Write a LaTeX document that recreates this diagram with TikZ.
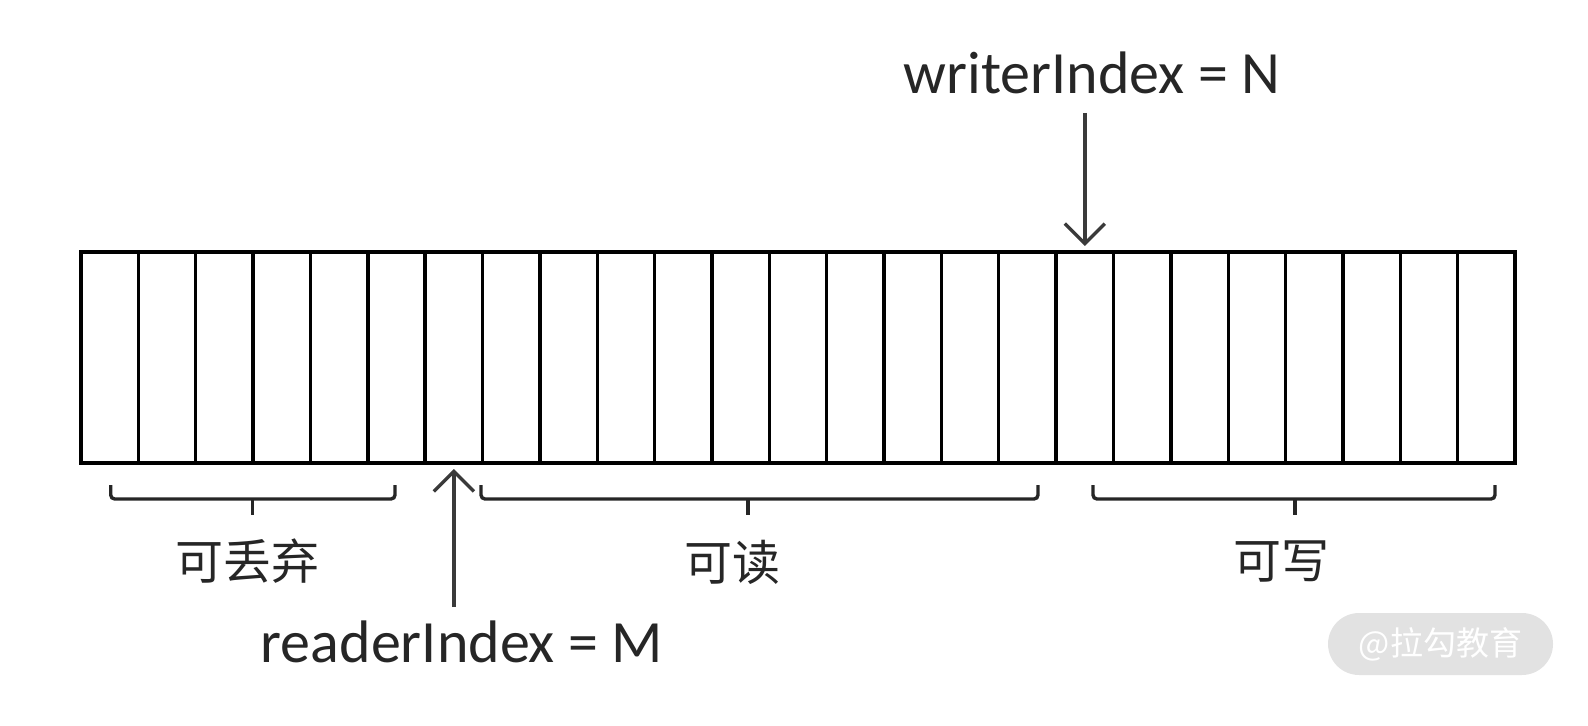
\documentclass[tikz,border=0pt]{standalone}
\usepackage{fontspec}
\setmainfont{Carlito}
\newfontfamily\cjk{Noto Sans CJK SC}
\usetikzlibrary{arrows.meta}
\definecolor{txt}{HTML}{262626}
\definecolor{arrc}{HTML}{3A3A3A}
\definecolor{wmfill}{HTML}{E2E2E2}
\begin{document}
\begin{tikzpicture}[x=0.5pt,y=-0.5pt,
  cell/.style={draw=black,line width=1.7pt,minimum width=28.68pt,minimum height=105.5pt,inner sep=0pt,outer sep=0pt,anchor=north west},
  lab/.style={font=\fontsize{30}{32}\selectfont,text=txt,inner sep=0pt,anchor=base},
  cjklab/.style={font=\cjk\fontsize{24}{28}\selectfont,text=txt,inner sep=0pt},
  arr/.style={draw=arrc,line width=1.7pt,-{Straight Barb[length=10pt,width=20pt]},shorten >=3pt},
  bracepath/.style={draw=txt,line width=1.7pt,rounded corners=2pt},
  wmark/.style={fill=wmfill,rounded corners=15.5pt,minimum width=112.5pt,minimum height=31pt,text=white,inner sep=0pt,font=\cjk\fontsize{16.5}{18}\selectfont}]
\useasboundingbox (0,0) rectangle (1588,726);
% buffer cells
\foreach \i in {0,...,24} \node[cell] (c\i) at ({81+\i*57.36},252) {};
% labels
\node[lab] (wlabel) at (1092,93.5) {writerIndex = N};
\node[lab] (rlabel) at (462,662.3) {readerIndex = M};
% arrows
\coordinate (wy) at (0,113);
\coordinate (ry) at (0,607);
\coordinate (wstart) at (c17.north |- wy);
\coordinate (rstart) at (c6.south |- ry);
\draw[arr] (wstart) -- (c17.north);
\draw[arr] (rstart) -- (c6.south);
% braces
\draw[bracepath] (110.7,485) -- (110.7,499) -- (395,499) -- (395,485);
\draw[bracepath] (252.3,499) -- (252.3,515);
\draw[bracepath] (481,485) -- (481,499) -- (1038,499) -- (1038,485);
\draw[bracepath] (748,499) -- (748,515);
\draw[bracepath] (1093,485) -- (1093,499) -- (1495,499) -- (1495,485);
\draw[bracepath] (1295,499) -- (1295,515);
% range labels
\node[cjklab] (discard) at (247,561) {可丢弃};
\node[cjklab] (readable) at (732,562) {可读};
\node[cjklab] (writable) at (1281,562) {可写};
% watermark
\node[wmark] (wm) at (1440.5,644) {@拉勾教育};
\end{tikzpicture}
\end{document}
